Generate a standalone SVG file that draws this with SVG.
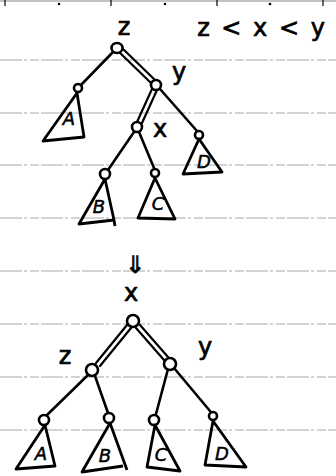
<svg xmlns="http://www.w3.org/2000/svg" width="336" height="476" viewBox="0 0 336 476">
<style>
.rule{stroke:#a8a8a8;stroke-width:1;stroke-dasharray:22 2 3 3 9 2;fill:none}
.e{stroke:#000;stroke-width:2.6;fill:none;stroke-linecap:round}
.d{stroke:#000;stroke-width:2.2;fill:none;stroke-linecap:round}
.n{stroke:#000;stroke-width:2.6;fill:#fff}
.t{stroke:#000;stroke-width:2.8;fill:none;stroke-linejoin:round}
.lbl{font-family:"DejaVu Sans",sans-serif;font-size:24px;fill:#000;stroke:#000;stroke-width:0.7;text-anchor:middle}
.st{font-family:"DejaVu Sans",sans-serif;font-size:18px;font-style:italic;fill:#000;stroke:#000;stroke-width:0.5;text-anchor:middle}
</style>
<rect width="336" height="476" fill="#fff"/>
<g id="paper">
<line x1="0" y1="1" x2="336" y2="1" stroke="#888" stroke-width="1"/>
<g stroke="#000" stroke-width="1.2"><line x1="5" y1="0" x2="5" y2="6"/><line x1="111" y1="0" x2="111" y2="6"/><line x1="217" y1="0" x2="217" y2="6"/><line x1="323" y1="0" x2="323" y2="6"/></g>
<g fill="#000"><circle cx="59" cy="4" r="1.3"/><circle cx="165" cy="4" r="1.3"/><circle cx="270" cy="4" r="1.3"/></g>
<line class="rule" x1="0" y1="60" x2="336" y2="60"/>
<line class="rule" x1="0" y1="113" x2="336" y2="113"/>
<line class="rule" x1="0" y1="165" x2="336" y2="165"/>
<line class="rule" x1="0" y1="218" x2="336" y2="218"/>
<line class="rule" x1="0" y1="271" x2="336" y2="271"/>
<line class="rule" x1="0" y1="324" x2="336" y2="324"/>
<line class="rule" x1="0" y1="377" x2="336" y2="377"/>
<line class="rule" x1="0" y1="430" x2="336" y2="430"/>
</g>
<text class="lbl" x="262" y="36" font-size="26" letter-spacing="2">z &lt; x &lt; y</text>
<g id="connectors">
<line class="e" x1="113" y1="52" x2="81" y2="85"/>
<line class="d" x1="118" y1="51" x2="151" y2="83"/><line class="d" x1="122" y1="48" x2="155" y2="80"/>
<line class="d" x1="152" y1="89" x2="137" y2="122"/><line class="d" x1="157" y1="90" x2="142" y2="123"/>
<line class="e" x1="160" y1="89" x2="197" y2="131"/>
<line class="e" x1="134" y1="132" x2="108" y2="170"/>
<line class="e" x1="139" y1="132" x2="154" y2="168"/>
<line class="d" x1="127" y1="325" x2="96" y2="363"/><line class="d" x1="131" y1="328" x2="100" y2="366"/>
<line class="d" x1="136" y1="328" x2="164" y2="360"/><line class="d" x1="140" y1="325" x2="168" y2="357"/>
<line class="e" x1="88" y1="375" x2="47" y2="415"/>
<line class="e" x1="95" y1="376" x2="108" y2="413"/>
<line class="e" x1="168" y1="369" x2="156" y2="414"/>
<line class="e" x1="174" y1="368" x2="210" y2="411"/>
</g>
<g id="z-top"><ellipse class="n" cx="117" cy="48" rx="5.5" ry="5"/><text class="lbl" x="124" y="35">z</text></g>
<g id="y-top"><circle class="n" cx="156" cy="85" r="5"/><text class="lbl" x="179" y="80">y</text></g>
<g id="x-top"><circle class="n" cx="137" cy="127" r="5"/><text class="lbl" x="160" y="137">x</text></g>
<g id="A-top"><circle class="n" cx="78" cy="88" r="4"/><path class="t" d="M77 93 L43 141 L84 137 Z"/><text class="st" x="69" y="125">A</text></g>
<g id="D-top"><circle class="n" cx="199" cy="135" r="4"/><path class="t" d="M199 139 L183 174 L222 172 Z"/><text class="st" x="204" y="168">D</text></g>
<g id="B-top"><circle class="n" cx="105" cy="174" r="5"/><path class="t" d="M105 179 L79 224 L114 220 L115 226 M105 179 L114 220"/><text class="st" x="99" y="213">B</text></g>
<g id="C-top"><circle class="n" cx="155" cy="173" r="4"/><path class="t" d="M155 178 L138 218 L175 219 Z"/><text class="st" x="158" y="210">C</text></g>
<text class="lbl" x="135" y="273" font-size="22" stroke-width="0.4">⇓</text>
<g id="x-bot"><circle class="n" cx="133" cy="321" r="6"/><text class="lbl" x="131" y="301">x</text></g>
<g id="z-bot"><circle class="n" cx="92" cy="370" r="6"/><text class="lbl" x="65" y="364">z</text></g>
<g id="y-bot"><circle class="n" cx="170" cy="364" r="6"/><text class="lbl" x="205" y="355">y</text></g>
<g id="A-bot"><circle class="n" cx="44" cy="420" r="5"/><path class="t" d="M45 425 L16 469 L55 466 Z"/><text class="st" x="41" y="460">A</text></g>
<g id="B-bot"><circle class="n" cx="109" cy="418" r="5"/><path class="t" d="M110 423 L82 472 L123 466 M110 423 L127 470"/><text class="st" x="105" y="462">B</text></g>
<g id="C-bot"><circle class="n" cx="154" cy="420" r="5"/><path class="t" d="M155 425 L147 467 L180 471 Z"/><text class="st" x="161" y="461">C</text></g>
<g id="D-bot"><circle class="n" cx="213" cy="416" r="4"/><path class="t" d="M213 421 L205 465 L246 467 Z"/><text class="st" x="222" y="460">D</text></g>
</svg>
